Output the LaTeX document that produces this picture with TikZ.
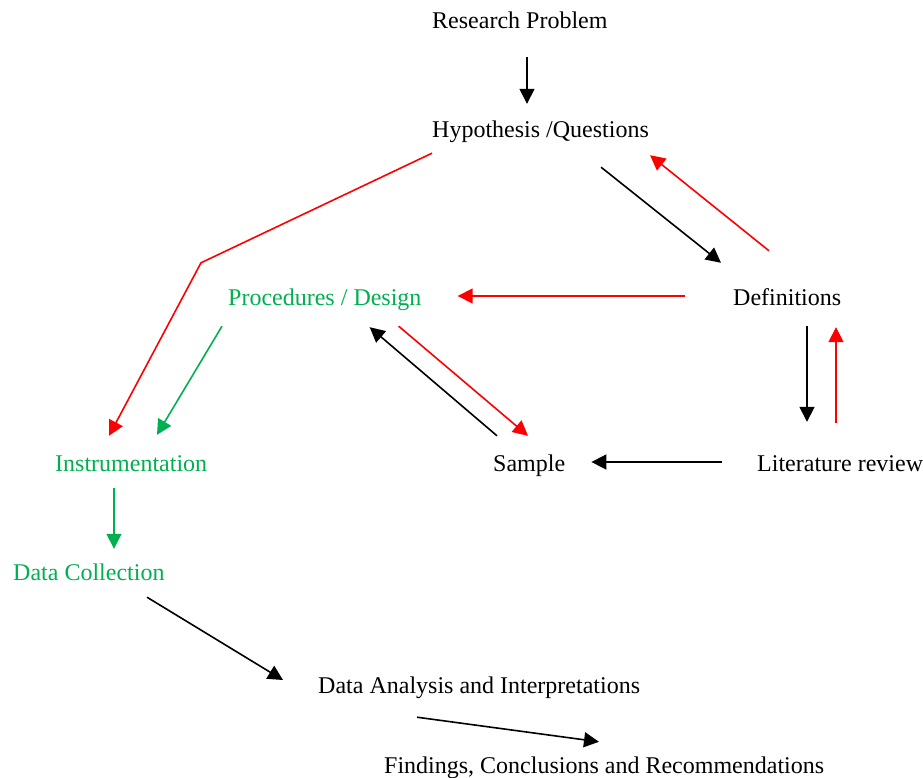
\documentclass[tikz,border=0pt]{standalone}
\usepackage{fontspec}
\setmainfont{Liberation Serif}
\usetikzlibrary{arrows.meta}
\definecolor{stepgreen}{RGB}{0,176,80}
\tikzstyle{label} = [inner sep=0pt,anchor=base west,text height=17pt,text depth=5pt,font=\fontsize{24}{28}\selectfont]
\tikzstyle{flow} = [line width=1.6pt,->]

\begin{document}
\begin{tikzpicture}[x=1pt,y=-1pt,>={Triangle[length=15pt,width=15pt]}]
\useasboundingbox (0,0) rectangle (923,778);
\tikzstyle{green label} = [label,text=stepgreen]
\node[label] at (432,29) (problem) {Research Problem};
\node[label] at (432,138) (hypothesis) {Hypothesis /Questions};
\node[label] at (733,305) (definitions) {Definitions};
\node[green label] at (228,305) (procedures) {Procedures / Design};
\node[green label] at (55,471) (instrument) {Instrumentation};
\node[label] at (493,471) (sample) {Sample};
\node[label] at (757,471) (literature) {Literature review};
\node[green label] at (13,580) (collection) {Data Collection};
\node[label] at (318,693) (analysis) {Data Analysis and Interpretations};
\node[label] at (384,773) (findings) {Findings, Conclusions and Recommendations};
\draw[flow] ([shift={(95,23)}]problem.south west) -- ([shift={(95,-17)}]hypothesis.north west);
\draw[flow] ([shift={(-48,24)}]hypothesis.south east) -- ([shift={(-12,-25)}]definitions.north west);
\draw[flow,red] ([shift={(36,-37)}]definitions.north west) -- ([shift={(1,12)}]hypothesis.south east);
\draw[flow,red] ([shift={(-48,-3)}]definitions.west) -- ([shift={(36,-3)}]procedures.east);
\draw[flow,red] ([shift={(0,10)}]hypothesis.south west) -- ([shift={(-27,-25)}]procedures.north west) -- ([shift={(54,-18)}]instrument.north west);
\draw[flow,stepgreen] ([shift={(-6,16)}]procedures.south west) -- ([shift={(102,-19)}]instrument.north west);
\draw[flow,red] ([shift={(-23,16)}]procedures.south east) -- ([shift={(35,-18)}]sample.north west);
\draw[flow] ([shift={(4,-18)}]sample.north west) -- ([shift={(-52,17)}]procedures.south east);
\draw[flow] ([shift={(-35,-3)}]literature.west) -- ([shift={(26,-3)}]sample.east);
\draw[flow] ([shift={(74,16)}]definitions.south west) -- ([shift={(50,-32)}]literature.north west);
\draw[flow,red] ([shift={(79,-31)}]literature.north west) -- ([shift={(103,17)}]definitions.south west);
\draw[flow,stepgreen] ([shift={(59,12)}]instrument.south west) -- ([shift={(101,-14)}]collection.north west);
\draw[flow] ([shift={(134,12)}]collection.south west) -- ([shift={(-35,-7)}]analysis.west);
\draw[flow] ([shift={(99,19)}]analysis.south west) -- ([shift={(215,-14)}]findings.north west);
\end{tikzpicture}
\end{document}
